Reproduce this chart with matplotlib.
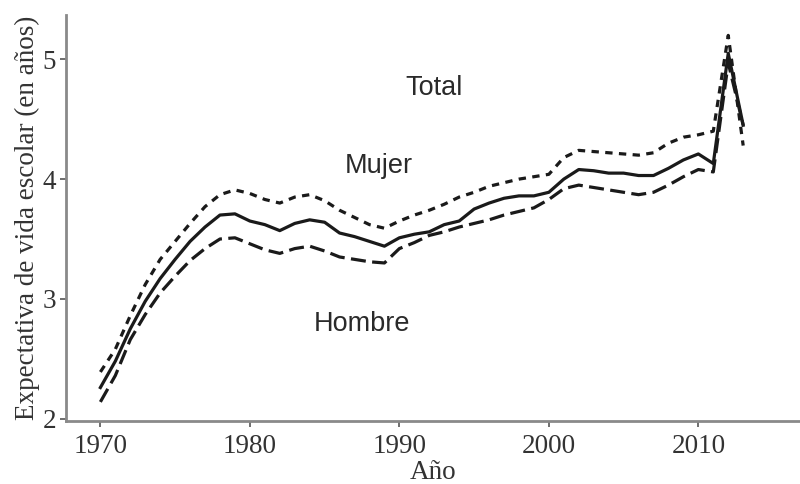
import matplotlib
matplotlib.use("Agg")
import matplotlib.pyplot as plt

years = list(range(1970, 2014))
total = [2.26, 2.48, 2.75, 2.98, 3.17, 3.33, 3.48, 3.60, 3.70, 3.71,
         3.65, 3.62, 3.57, 3.63, 3.66, 3.64, 3.55, 3.52, 3.48, 3.44,
         3.51, 3.54, 3.56, 3.62, 3.65, 3.75, 3.80, 3.84, 3.86, 3.86,
         3.89, 4.00, 4.08, 4.07, 4.05, 4.05, 4.03, 4.03, 4.09, 4.16,
         4.21, 4.13, 5.05, 4.45]
mujer = [2.39, 2.58, 2.86, 3.12, 3.33, 3.48, 3.63, 3.77, 3.87, 3.91,
         3.88, 3.83, 3.80, 3.85, 3.87, 3.82, 3.74, 3.68, 3.62, 3.59,
         3.65, 3.70, 3.74, 3.79, 3.85, 3.89, 3.94, 3.97, 4.00, 4.02,
         4.04, 4.18, 4.24, 4.23, 4.22, 4.21, 4.20, 4.22, 4.30, 4.35,
         4.37, 4.40, 5.20, 4.28]
hombre = [2.14, 2.36, 2.66, 2.87, 3.05, 3.19, 3.32, 3.42, 3.50, 3.51,
          3.46, 3.41, 3.38, 3.42, 3.44, 3.40, 3.35, 3.33, 3.31, 3.30,
          3.42, 3.47, 3.53, 3.56, 3.60, 3.63, 3.66, 3.70, 3.73, 3.76,
          3.83, 3.92, 3.95, 3.93, 3.91, 3.89, 3.87, 3.89, 3.95, 4.02,
          4.08, 4.06, 4.97, 4.45]
labels = ["Total", "Mujer", "Hombre"]
label_pos = [(1992.3, 4.76), (1988.6, 4.11), (1987.5, 2.79)]
xticks = [1970, 1980, 1990, 2000, 2010]
yticks = [2, 3, 4, 5]

fig = plt.figure(figsize=(8, 4.84), dpi=100)
ax = fig.add_axes([0.0825, 0.13, 0.9175, 0.839])

lw = 2.3
ax.plot(years, total, color="#1a1a1a", lw=lw, linestyle="-")
ax.plot(years, mujer, color="#1a1a1a", lw=lw, linestyle=(0, (2.3, 2.0)))
ax.plot(years, hombre, color="#1a1a1a", lw=lw, linestyle=(0, (4.7, 2.0)))

for t, (x, y) in zip(labels, label_pos):
    ax.text(x, y, t, ha="center", va="center", fontsize=19.5,
            family="Liberation Sans", color="#2a2a2a")

ax.set_xlim(1967.7, 2016.8)
ax.set_ylim(1.98, 5.37)
ax.set_xticks(xticks)
ax.set_yticks(yticks)
for s in ["top", "right"]:
    ax.spines[s].set_visible(False)
for s in ["left", "bottom"]:
    ax.spines[s].set_color("#8a8a8a")
    ax.spines[s].set_linewidth(2.0)
ax.tick_params(colors="#555555", length=4, width=1.2, labelcolor="#333333",
               labelsize=19.5, pad=3)
ax.tick_params(axis="x", pad=5)
for lab in ax.get_xticklabels() + ax.get_yticklabels():
    lab.set_family("Liberation Serif")
ax.set_xlabel("Año", family="Liberation Serif", fontsize=19.5, color="#333333",
              labelpad=1)
ax.set_ylabel("Expectativa de vida escolar (en años)", family="Liberation Serif",
              fontsize=19.5, color="#333333", labelpad=2)

fig.savefig("out.png", dpi=100)
